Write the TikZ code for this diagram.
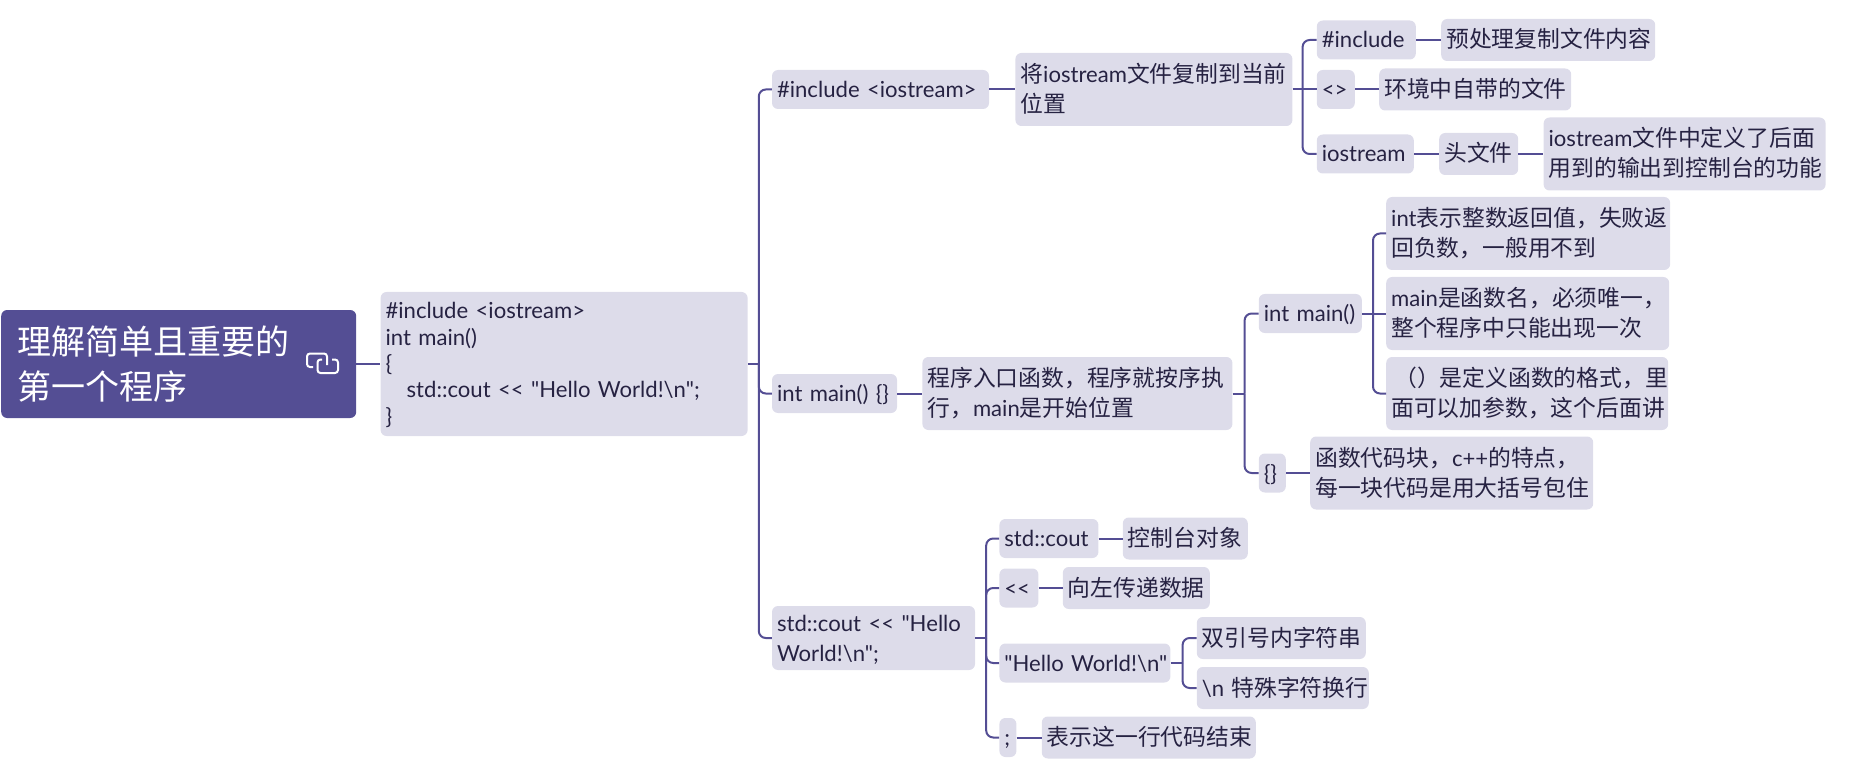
\documentclass[tikz,border=0pt]{standalone}
\usepackage{fontspec}
\usetikzlibrary{positioning}
\newfontfamily\mapfont[Scale=0.97, WordSpace=0.7]{Lato}
\newfontfamily\cjkfont{Noto Sans CJK SC}
\newcommand{\zh}[1]{{\cjkfont #1}}
\definecolor{boxlav}{RGB}{221, 220, 234}
\definecolor{rootpurple}{RGB}{84, 78, 148}
\definecolor{linepurple}{RGB}{84, 78, 148}
\definecolor{inkdark}{RGB}{38, 34, 66}
\tikzset{
  mapbox/.style={
    rectangle, rounded corners=6pt,
    minimum width=#1, text width=#1-10pt, minimum height=39pt,
    inner xsep=5pt, inner ysep=0pt,
    fill=boxlav, text=inkdark, align=left,
    font=\mapfont\fontsize{22.8}{30}\selectfont,
    execute at begin node={\rule{0pt}{20pt}},
    execute at end node={\rule[-4pt]{0pt}{4pt}}
  },
  tall/.style={minimum height=73pt},
  leaf/.style={minimum height=42pt},
  codebox/.style={
    rectangle, rounded corners=6pt,
    minimum width=367pt, text width=357pt, minimum height=144pt,
    inner xsep=5pt, inner ysep=0pt,
    fill=boxlav, text=inkdark, align=left,
    font=\mapfont\fontsize{22.8}{26.4}\selectfont,
    execute at begin node={\rule{0pt}{19.5pt}},
    execute at end node={\rule[-4.5pt]{0pt}{4.5pt}}
  },
  rootbox/.style={
    rectangle, rounded corners=6pt,
    minimum width=355pt, text width=323pt, minimum height=108pt,
    inner xsep=16pt, inner ysep=0pt,
    fill=rootpurple, text=white, align=left,
    font=\cjkfont\fontsize{34}{45}\selectfont,
    execute at begin node={\rule{0pt}{31pt}},
    execute at end node={\rule[-6pt]{0pt}{6pt}}
  },
  link/.style={draw=linepurple, line width=2pt, rounded corners=7pt},
  iconline/.style={draw=white, line width=2pt, rounded corners=3pt}
}
\begin{document}
\begin{tikzpicture}[x=1pt, y=1pt]
  \useasboundingbox (0,0) rectangle (1875,-770);

  % ── Root and code ──────────────────────────────────────
  \node[rootbox, anchor=west] (root) at (1,-364)
    {理解简单且重要的\\第一个程序};
  \node[codebox, right=24pt of root] (code)
    {\#include <iostream>\\int main()\\\{\\\hspace*{21pt}std::cout << "Hello World!\textbackslash n";\\\}};

  % ── Link icon ──────────────────────────────────────────
  \draw[iconline] (313,-367) -- (307,-367) -- (307,-353.5) -- (327,-353.5) -- (327,-365);
  \draw[iconline] (332,-359.5) -- (338,-359.5) -- (338,-373) -- (317.5,-373) -- (317.5,-359.5) -- (322,-359.5);

  % ── First line ─────────────────────────────────────────
  \node[mapbox=217pt, right=24pt of code, yshift=274.5pt] (incl)
    {\mbox{\#include <iostream>}};
  \node[mapbox=277pt, tall, right=26pt of incl] (copyto)
    {\zh{将}iostream\zh{文件复制到当前}\\\zh{位置}};
  \node[mapbox=99pt, right=24pt of copyto, yshift=49.5pt] (incltok)
    {\#include};
  \node[mapbox=214pt, leaf, right=25pt of incltok] (preproc)
    {\zh{预处理复制文件内容}};
  \node[mapbox=38pt, right=24pt of copyto] (angle)
    {<>};
  \node[mapbox=192pt, leaf, right=24pt of angle] (envfile)
    {\zh{环境中自带的文件}};
  \node[mapbox=97pt, right=24pt of copyto, yshift=-64.5pt] (iostr)
    {iostream};
  \node[mapbox=79pt, leaf, right=25pt of iostr] (headfile)
    {\zh{头文件}};
  \node[mapbox=282pt, tall, right=25pt of headfile] (ioleaf)
    {iostream\zh{文件中定义了后面}\\\zh{用到的输出到控制台的功能}};

  % ── Second line ────────────────────────────────────────
  \node[mapbox=125pt, right=24pt of code, yshift=-29.5pt] (mainfn)
    {\mbox{int main() \{\}}};
  \node[mapbox=310pt, tall, right=25pt of mainfn] (entry)
    {\zh{程序入口函数，程序就按序执}\\\zh{行，}main\zh{是开始位置}};
  \node[mapbox=103pt, right=26pt of entry, yshift=80pt] (mainsig)
    {\mbox{int main()}};
  \node[mapbox=284pt, tall, right=24pt of mainsig, yshift=80pt] (intleaf)
    {int\zh{表示整数返回值，失败返}\\\zh{回负数，一般用不到}};
  \node[mapbox=283pt, tall, right=24pt of mainsig] (nameleaf)
    {main\zh{是函数名，必须唯一，}\\\zh{整个程序中只能出现一次}};
  \node[mapbox=282pt, tall, right=24pt of mainsig, yshift=-80pt] (parenleaf)
    {\zh{\hspace*{3pt}（）是定义函数的格式，里}\\\zh{面可以加参数，这个后面讲}};
  \node[mapbox=27pt, right=26pt of entry, yshift=-79.5pt] (braces)
    {\{\}};
  \node[mapbox=283pt, tall, right=24pt of braces] (blockleaf)
    {\zh{函数代码块，}c++\zh{的特点，}\\\zh{每一块代码是用大括号包住}};

  % ── Third line ─────────────────────────────────────────
  \node[mapbox=203pt, minimum height=64pt, right=24pt of code, yshift=-274pt] (coutln)
    {\mbox{std::cout << "Hello}\\World!\textbackslash n";};
  \node[mapbox=99pt, right=24pt of coutln, yshift=99.5pt] (cout)
    {std::cout};
  \node[mapbox=125pt, leaf, right=24pt of cout] (console)
    {\zh{控制台对象}};
  \node[mapbox=39pt, right=24pt of coutln, yshift=50pt] (shift)
    {<<};
  \node[mapbox=147pt, leaf, right=24pt of shift] (passleft)
    {\zh{向左传递数据}};
  \node[mapbox=171pt, right=24pt of coutln, yshift=-25pt] (hello)
    {\mbox{"Hello World!\textbackslash n"}};
  \node[mapbox=169pt, leaf, right=26pt of hello, yshift=25pt] (strleaf)
    {\zh{双引号内字符串}};
  \node[mapbox=172pt, leaf, right=26pt of hello, yshift=-25pt] (nlleaf)
    {\mbox{\textbackslash n \zh{特殊字符换行}}};
  \node[mapbox=17pt, right=24pt of coutln, yshift=-99.5pt] (semi)
    {;};
  \node[mapbox=214pt, leaf, right=25pt of semi] (endleaf)
    {\zh{表示这一行代码结束}};

  % ── Straight connectors ────────────────────────────────
  \foreach \a/\b in {root/code, incl/copyto, incltok/preproc, angle/envfile,
      iostr/headfile, headfile/ioleaf, mainfn/entry, mainsig/nameleaf,
      braces/blockleaf, cout/console, shift/passleft, semi/endleaf,
      copyto/angle}{
    \draw[link] (\a.east) -- (\b.west);
  }

  % ── Stubs to the buses ─────────────────────────────────
  \draw[link] (code.east) -- ++(11,0) coordinate (codebus);
  \draw[link] (entry.east) -- ++(12,0) coordinate (entrybus);
  \draw[link] (coutln.east) -- ++(11,0) coordinate (coutbus);
  \draw[link] (hello.east) -- ++(12,0) coordinate (hellobus);
  \coordinate (copybus) at ([xshift=10pt]copyto.east);
  \coordinate (sigbus) at ([xshift=11pt]mainsig.east);

  % ── Branching connectors ───────────────────────────────
  \foreach \n in {incl, mainfn, coutln}{
    \draw[link] (codebus) |- (\n.west);
  }
  \foreach \n in {incltok, iostr}{
    \draw[link] (copybus) |- (\n.west);
  }
  \foreach \n in {mainsig, braces}{
    \draw[link] (entrybus) |- (\n.west);
  }
  \foreach \n in {intleaf, parenleaf}{
    \draw[link] (sigbus) |- (\n.west);
  }
  \foreach \n in {cout, shift, hello, semi}{
    \draw[link] (coutbus) |- (\n.west);
  }
  \foreach \n in {strleaf, nlleaf}{
    \draw[link] (hellobus) |- (\n.west);
  }

\end{tikzpicture}
\end{document}
